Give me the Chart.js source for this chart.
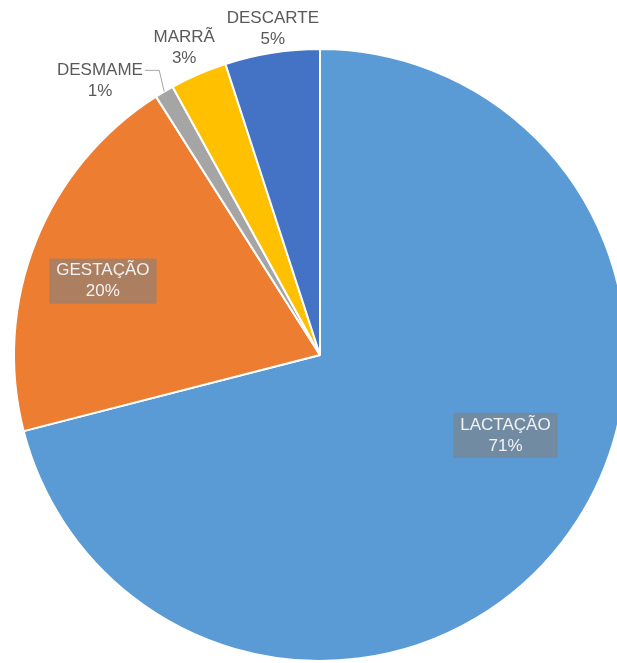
<!DOCTYPE html>
<html>
<head>
<meta charset="utf-8">
<script src="https://cdn.jsdelivr.net/npm/chart.js@4.4.0/dist/chart.umd.min.js"></script>
<style>
  html, body { margin: 0; padding: 0; background: #fff; overflow: hidden; }
  #wrap { width: 617px; height: 663px; overflow: hidden; }
</style>
</head>
<body>
<div id="wrap"><canvas id="myChart" width="640" height="670"></canvas></div>
<script>
const categories = ['LACTAÇÃO', 'GESTAÇÃO', 'DESMAME', 'MARRÃ', 'DESCARTE'];
const shares = [71, 20, 1, 3, 5];
const sliceColors = ['#5B9BD5', '#ED7D31', '#A5A5A5', '#FFC000', '#4472C4'];

// where each label sits: distance as a fraction of the radius, angle shift in degrees
const labelPlacement = [
    { dist: 0.66, shift: -14.5, boxed: true },
    { dist: 0.75, shift: -2.7, boxed: true },
    { dist: 1.15, shift: -8.1, boxed: false, leader: true },
    { dist: 1.10, shift: -0.4, boxed: false },
    { dist: 1.08, shift: 0.8, boxed: false }
];

const FONT = '17px "Liberation Sans", Arial, sans-serif';

const sliceLabels = {
    id: 'sliceLabels',
    afterDatasetsDraw(chart) {
        const ctx = chart.ctx;
        const meta = chart.getDatasetMeta(0);
        ctx.save();
        ctx.font = FONT;
        ctx.textAlign = 'center';
        ctx.textBaseline = 'middle';
        meta.data.forEach((arc, i) => {
            const p = labelPlacement[i];
            const mid = (arc.startAngle + arc.endAngle) / 2;
            const a = mid + p.shift * Math.PI / 180;
            const r = arc.outerRadius * p.dist;
            const cx = arc.x + Math.cos(a) * r;
            const cy = arc.y + Math.sin(a) * r;
            const line1 = categories[i];
            const line2 = shares[i] + '%';
            const w = Math.max(ctx.measureText(line1).width, ctx.measureText(line2).width);
            if (p.boxed) {
                ctx.fillStyle = 'rgba(128,128,128,0.6)';
                ctx.fillRect(cx - w / 2 - 7, cy - 22, w + 14, 45);
                ctx.fillStyle = '#F2F2F2';
            } else {
                ctx.fillStyle = '#595959';
            }
            ctx.fillText(line1, cx, cy - 10);
            ctx.fillText(line2, cx, cy + 11);
            if (p.leader) {
                const ex = arc.x + Math.cos(mid) * arc.outerRadius;
                const ey = arc.y + Math.sin(mid) * arc.outerRadius;
                const sx = cx + w / 2 + 2;
                const sy = cy - 10;
                ctx.strokeStyle = '#A6A6A6';
                ctx.lineWidth = 1;
                ctx.beginPath();
                ctx.moveTo(sx, sy);
                ctx.lineTo(ex - 5, sy);
                ctx.lineTo(ex, ey);
                ctx.stroke();
            }
        });
        ctx.restore();
    }
};

new Chart(document.getElementById('myChart').getContext('2d'), {
    type: 'pie',
    data: {
        labels: categories,
        datasets: [{
            data: shares,
            backgroundColor: sliceColors,
            borderColor: '#FFFFFF',
            borderWidth: 2
        }]
    },
    options: {
        responsive: false,
        animation: false,
        layout: { padding: { left: 13, top: 48, right: 13, bottom: 8 } },
        plugins: {
            legend: { display: false },
            tooltip: { enabled: false }
        }
    },
    plugins: [sliceLabels]
});
</script>
</body>
</html>
